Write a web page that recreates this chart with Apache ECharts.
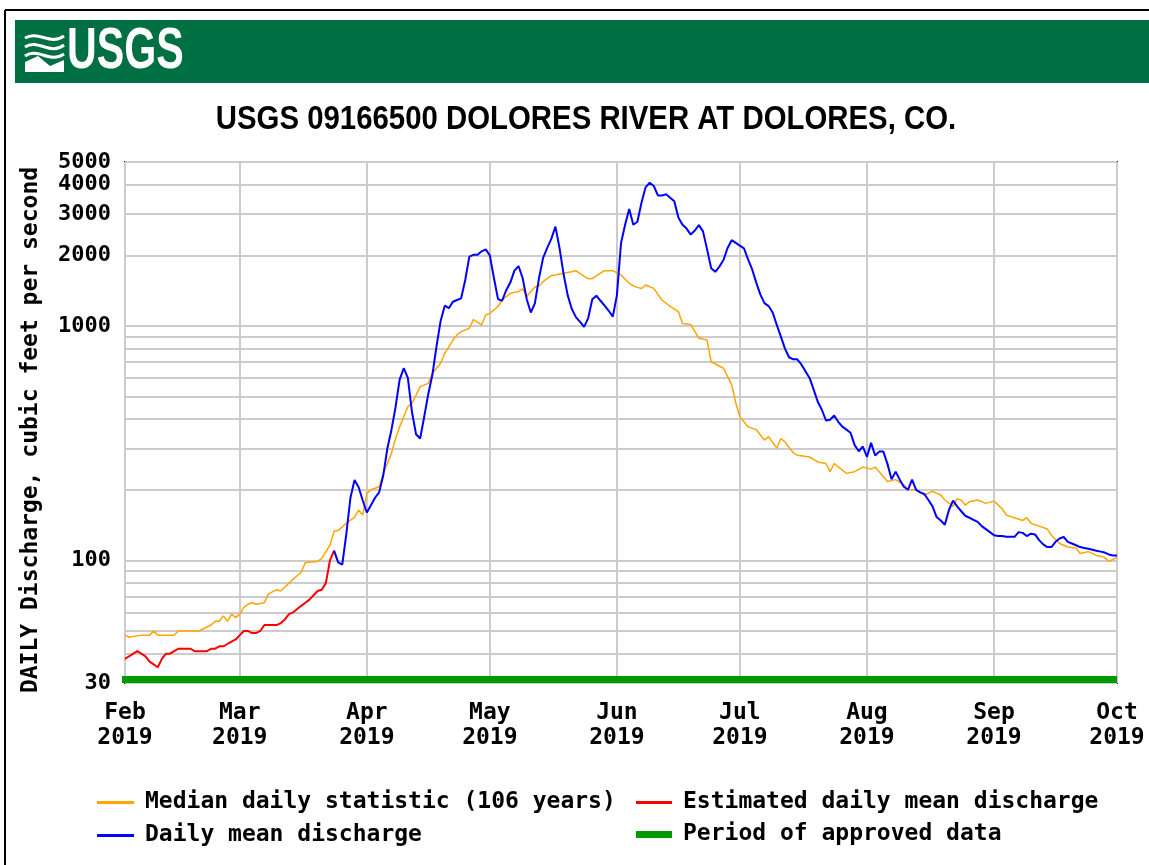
<!DOCTYPE html>
<html>
<head>
<meta charset="utf-8">
<title>USGS 09166500 Dolores River at Dolores, CO</title>
<script src="https://cdn.jsdelivr.net/npm/echarts@6/dist/echarts.min.js"></script>
<style>
  html, body { margin: 0; padding: 0; background: #fff; }
  #chart { width: 1149px; height: 865px; }
</style>
</head>
<body>
<div id="chart"></div>
<script>
// axis ticks
const monthTicks = ['2019-02-01', '2019-03-01', '2019-04-01', '2019-05-01', '2019-06-01',
  '2019-07-01', '2019-08-01', '2019-09-01', '2019-10-01'];
const monthNames = ['Jan', 'Feb', 'Mar', 'Apr', 'May', 'Jun', 'Jul', 'Aug', 'Sep', 'Oct', 'Nov', 'Dec'];
const yGridValues = [30, 40, 50, 60, 70, 80, 90, 100, 200, 300, 400, 500, 600, 700, 800, 900,
  1000, 2000, 3000, 4000, 5000];
const yLabelValues = [30, 100, 1000, 2000, 3000, 4000, 5000];

// median daily statistic (106 years), cfs
const medianFlow = [
  ['2019-02-01', 48], ['2019-02-02', 47], ['2019-02-05', 48], ['2019-02-07', 48], ['2019-02-08', 50],
  ['2019-02-09', 48], ['2019-02-13', 48], ['2019-02-14', 50], ['2019-02-19', 50], ['2019-02-20', 51],
  ['2019-02-22', 53], ['2019-02-23', 55], ['2019-02-24', 55], ['2019-02-25', 58], ['2019-02-26', 55],
  ['2019-02-27', 59], ['2019-02-28', 57], ['2019-03-01', 59], ['2019-03-02', 63], ['2019-03-03', 65],
  ['2019-03-04', 66], ['2019-03-05', 65], ['2019-03-07', 66], ['2019-03-08', 72], ['2019-03-10', 75],
  ['2019-03-11', 74], ['2019-03-12', 77], ['2019-03-13', 80], ['2019-03-14', 83], ['2019-03-15', 86],
  ['2019-03-16', 89], ['2019-03-17', 98], ['2019-03-20', 99], ['2019-03-21', 102], ['2019-03-22', 109],
  ['2019-03-23', 116], ['2019-03-24', 133], ['2019-03-25', 134], ['2019-03-27', 144], ['2019-03-29', 153],
  ['2019-03-30', 164], ['2019-03-31', 156], ['2019-04-01', 193], ['2019-04-02', 200], ['2019-04-04', 206],
  ['2019-04-05', 235], ['2019-04-06', 259], ['2019-04-07', 286], ['2019-04-08', 331], ['2019-04-09', 371],
  ['2019-04-10', 410], ['2019-04-11', 452], ['2019-04-12', 467], ['2019-04-13', 507], ['2019-04-14', 551],
  ['2019-04-16', 569], ['2019-04-17', 628], ['2019-04-19', 693], ['2019-04-20', 764], ['2019-04-22', 870],
  ['2019-04-23', 915], ['2019-04-24', 945], ['2019-04-26', 977], ['2019-04-27', 1063], ['2019-04-29', 1010],
  ['2019-04-30', 1113], ['2019-05-01', 1131], ['2019-05-03', 1210], ['2019-05-04', 1290], ['2019-05-06', 1377],
  ['2019-05-08', 1400], ['2019-05-09', 1440], ['2019-05-10', 1334], ['2019-05-12', 1466], ['2019-05-13', 1480],
  ['2019-05-14', 1545], ['2019-05-16', 1640], ['2019-05-17', 1650], ['2019-05-19', 1676], ['2019-05-21', 1702],
  ['2019-05-22', 1720], ['2019-05-24', 1626], ['2019-05-25', 1590], ['2019-05-26', 1590], ['2019-05-28', 1680],
  ['2019-05-29', 1720], ['2019-05-31', 1720], ['2019-06-02', 1650], ['2019-06-04', 1520], ['2019-06-05', 1480],
  ['2019-06-06', 1460], ['2019-06-07', 1445], ['2019-06-08', 1495], ['2019-06-10', 1445], ['2019-06-12', 1290],
  ['2019-06-14', 1210], ['2019-06-16', 1150], ['2019-06-17', 1025], ['2019-06-19', 1015], ['2019-06-21', 886],
  ['2019-06-23', 870], ['2019-06-24', 703], ['2019-06-27', 660], ['2019-06-29', 560], ['2019-06-30', 470],
  ['2019-07-01', 410], ['2019-07-03', 371], ['2019-07-05', 361], ['2019-07-07', 326], ['2019-07-08', 337],
  ['2019-07-10', 301], ['2019-07-11', 331], ['2019-07-12', 320], ['2019-07-14', 288], ['2019-07-15', 281],
  ['2019-07-18', 276], ['2019-07-20', 263], ['2019-07-22', 259], ['2019-07-23', 239], ['2019-07-24', 259],
  ['2019-07-27', 235], ['2019-07-29', 239], ['2019-07-31', 250], ['2019-08-02', 245], ['2019-08-03', 250],
  ['2019-08-04', 239], ['2019-08-06', 217], ['2019-08-08', 221], ['2019-08-10', 210], ['2019-08-11', 200],
  ['2019-08-13', 200], ['2019-08-15', 190], ['2019-08-17', 197], ['2019-08-19', 190], ['2019-08-20', 181],
  ['2019-08-22', 170], ['2019-08-23', 183], ['2019-08-24', 181], ['2019-08-25', 172], ['2019-08-26', 178],
  ['2019-08-28', 181], ['2019-08-30', 175], ['2019-09-01', 179], ['2019-09-03', 166], ['2019-09-04', 156],
  ['2019-09-06', 152], ['2019-09-08', 148], ['2019-09-09', 152], ['2019-09-10', 144], ['2019-09-12', 140],
  ['2019-09-14', 136], ['2019-09-15', 128], ['2019-09-17', 118], ['2019-09-19', 114], ['2019-09-21', 113],
  ['2019-09-22', 107], ['2019-09-24', 109], ['2019-09-26', 105], ['2019-09-28', 103], ['2019-09-29', 99],
  ['2019-10-01', 103]
];

// estimated daily mean discharge, one value per day from estimatedStart
const estimatedStart = '2019-02-01';
const estimatedFlow = [
  38, 39, 40, 41, 40, 39, 37, 36, 35, 38,
  40, 40, 41, 42, 42, 42, 42, 41, 41, 41,
  41, 42, 42, 43, 43, 44, 45, 46, 48, 50,
  50, 49, 49, 50, 53, 53, 53, 53, 54, 56,
  59, 60, 62, 64, 66, 68, 71, 74, 75, 80,
  100, 110
];

// daily mean discharge, one value per day from dailyStart
const dailyStart = '2019-03-24';
const dailyFlow = [
  110, 98, 96, 130, 185, 220, 205, 180, 160, 172,
  185, 195, 230, 300, 360, 450, 590, 660, 600, 430,
  345, 331, 410, 514, 620, 820, 1050, 1220, 1190, 1268,
  1290, 1310, 1570, 1975, 2010, 2010, 2080, 2120, 2000, 1600,
  1300, 1280, 1420, 1530, 1720, 1800, 1600, 1300, 1140, 1250,
  1600, 1950, 2150, 2350, 2650, 2150, 1660, 1350, 1180, 1090,
  1040, 990, 1080, 1300, 1345, 1280, 1220, 1160, 1095, 1350,
  2250, 2700, 3150, 2700, 2780, 3350, 3900, 4080, 3950, 3600,
  3600, 3640, 3520, 3400, 2900, 2700, 2600, 2450, 2550, 2690,
  2530, 2120, 1760, 1700, 1790, 1910, 2150, 2320, 2260, 2200,
  2140, 1920, 1740, 1530, 1360, 1250, 1215, 1140, 1010, 900,
  800, 735, 720, 720, 685, 640, 600, 535, 475, 439,
  395, 398, 415, 390, 372, 361, 350, 310, 292, 306,
  276, 317, 280, 291, 291, 258, 222, 239, 221, 206,
  200, 221, 200, 195, 192, 181, 170, 153, 148, 142,
  164, 180, 170, 162, 155, 152, 149, 146, 140, 136,
  132, 128, 127, 127, 126, 126, 126, 132, 131, 127,
  130, 129, 122, 117, 114, 114, 120, 124, 126, 120,
  118, 116, 114, 113, 112, 111, 110, 109, 108, 106,
  105, 105
];

// period of approved data
const approvedPeriod = ['2019-02-01', '2019-10-01'];

function parseDay(s) {
  const [y, m, d] = s.split('-').map(Number);
  return new Date(y, m - 1, d);
}

function toDaily(start, values) {
  const d0 = parseDay(start);
  return values.map((v, i) =>
    [new Date(d0.getFullYear(), d0.getMonth(), d0.getDate() + i).getTime(), v]);
}

const DAY = 24 * 3600 * 1000;
const monoFont = '"DejaVu Sans Mono", monospace';
const labelStyle = { fontFamily: monoFont, fontWeight: 'bold', fontSize: 23, color: '#000' };
const legendText = Object.assign({ lineHeight: 22, padding: [0, 0, 0, 6] }, labelStyle);

const chart = echarts.init(document.getElementById('chart'));

chart.setOption({
  animation: false,
  backgroundColor: '#fff',
  grid: {
    left: 125, top: 162, width: 992, height: 521,
    show: true, borderColor: '#111', borderWidth: 2
  },
  graphic: [
    // frame and header bar
    { type: 'line', shape: { x1: 5, y1: 10, x2: 1149, y2: 10 }, style: { stroke: '#000', lineWidth: 2 } },
    { type: 'line', shape: { x1: 5, y1: 10, x2: 5, y2: 865 }, style: { stroke: '#000', lineWidth: 2 } },
    { type: 'rect', shape: { x: 15, y: 20, width: 1134, height: 63 }, style: { fill: '#006f41' } },
    // logo waves
    { type: 'bezierCurve', shape: { x1: 25, y1: 38, cpx1: 38, cpy1: 30, cpx2: 50, cpy2: 46, x2: 64, y2: 36 },
      style: { stroke: '#fff', lineWidth: 3, fill: null } },
    { type: 'bezierCurve', shape: { x1: 25, y1: 47, cpx1: 38, cpy1: 38, cpx2: 50, cpy2: 56, x2: 64, y2: 45 },
      style: { stroke: '#fff', lineWidth: 3, fill: null } },
    { type: 'bezierCurve', shape: { x1: 25, y1: 56, cpx1: 38, cpy1: 47, cpx2: 50, cpy2: 64, x2: 64, y2: 54 },
      style: { stroke: '#fff', lineWidth: 3, fill: null } },
    { type: 'polygon', shape: { points: [[25, 62], [38, 56], [50, 66], [64, 60], [64, 72], [25, 72]] },
      style: { fill: '#fff' } },
    { type: 'text', x: 67, y: 52, scaleX: 0.71,
      style: { text: 'USGS', fill: '#fff', font: 'bold 58px "Liberation Sans", Arial, sans-serif',
        textAlign: 'left', textVerticalAlign: 'middle' } },
    // title
    { type: 'text', x: 586, y: 120, scaleX: 0.89,
      style: { text: 'USGS 09166500 DOLORES RIVER AT DOLORES, CO.', fill: '#000',
        font: 'bold 33px "Liberation Sans", Arial, sans-serif',
        textAlign: 'center', textVerticalAlign: 'middle' } },
    // y axis name
    { type: 'text', x: 31, y: 430, rotation: Math.PI / 2,
      style: { text: 'DAILY Discharge, cubic feet per second', fill: '#000',
        font: 'bold 23px ' + monoFont, textAlign: 'center', textVerticalAlign: 'middle' } }
  ],
  xAxis: {
    type: 'time',
    min: monthTicks[0],
    max: monthTicks[monthTicks.length - 1],
    splitNumber: monthTicks.length - 1,
    minInterval: 28 * DAY,
    maxInterval: 31 * DAY,
    axisLine: { show: false },
    axisTick: { show: false },
    splitLine: { show: true, lineStyle: { color: '#cccccc', width: 2 } },
    axisLabel: Object.assign({
      hideOverlap: false,
      showMinLabel: true,
      showMaxLabel: true,
      margin: 18,
      lineHeight: 25,
      formatter: v => {
        const d = new Date(v);
        return monthNames[d.getMonth()] + '\n' + d.getFullYear();
      }
    }, labelStyle)
  },
  yAxis: {
    type: 'log',
    logBase: 10,
    min: yGridValues[0],
    max: yGridValues[yGridValues.length - 1],
    axisLine: { show: false },
    axisTick: { show: false, customValues: yGridValues },
    splitLine: { show: true, lineStyle: { color: '#cccccc', width: 2 } },
    axisLabel: Object.assign({
      customValues: yLabelValues,
      hideOverlap: false,
      showMinLabel: true,
      showMaxLabel: true,
      margin: 14,
      formatter: v => String(Math.round(v))
    }, labelStyle, { fontSize: 22, lineHeight: 16 })
  },
  legend: [
    {
      data: ['Median daily statistic (106 years)', 'Daily mean discharge'],
      left: 97, top: 791, padding: 0, orient: 'vertical', icon: 'rect',
      itemWidth: 37, itemHeight: 3, itemGap: 10, selectedMode: false,
      textStyle: legendText
    },
    {
      data: ['Estimated daily mean discharge'],
      left: 636, top: 791, padding: 0, orient: 'vertical', icon: 'rect',
      itemWidth: 36, itemHeight: 3, selectedMode: false,
      textStyle: legendText
    },
    {
      data: ['Period of approved data'],
      left: 636, top: 823, padding: 0, orient: 'vertical', icon: 'rect',
      itemWidth: 36, itemHeight: 7, selectedMode: false,
      textStyle: legendText
    }
  ],
  series: [
    {
      name: 'Median daily statistic (106 years)',
      type: 'line',
      data: medianFlow,
      showSymbol: false,
      lineStyle: { color: '#ffa500', width: 1.5 },
      itemStyle: { color: '#ffa500' },
      z: 2
    },
    {
      name: 'Estimated daily mean discharge',
      type: 'line',
      data: toDaily(estimatedStart, estimatedFlow),
      showSymbol: false,
      lineStyle: { color: '#ff0000', width: 2 },
      itemStyle: { color: '#ff0000' },
      z: 3
    },
    {
      name: 'Daily mean discharge',
      type: 'line',
      data: toDaily(dailyStart, dailyFlow),
      showSymbol: false,
      lineStyle: { color: '#0000ff', width: 2 },
      itemStyle: { color: '#0000ff' },
      z: 4
    },
    {
      name: 'Period of approved data',
      type: 'custom',
      data: [[parseDay(approvedPeriod[0]).getTime(), parseDay(approvedPeriod[1]).getTime()]],
      encode: { x: [0, 1] },
      itemStyle: { color: '#009900' },
      clip: false,
      z: 5,
      renderItem: (params, api) => {
        const p0 = api.coord([api.value(0), yGridValues[0]]);
        const p1 = api.coord([api.value(1), yGridValues[0]]);
        return {
          type: 'rect',
          shape: { x: p0[0] - 3, y: p0[1] - 7, width: p1[0] - p0[0] + 3, height: 7 },
          style: { fill: '#009900' }
        };
      }
    }
  ]
});
</script>
</body>
</html>
